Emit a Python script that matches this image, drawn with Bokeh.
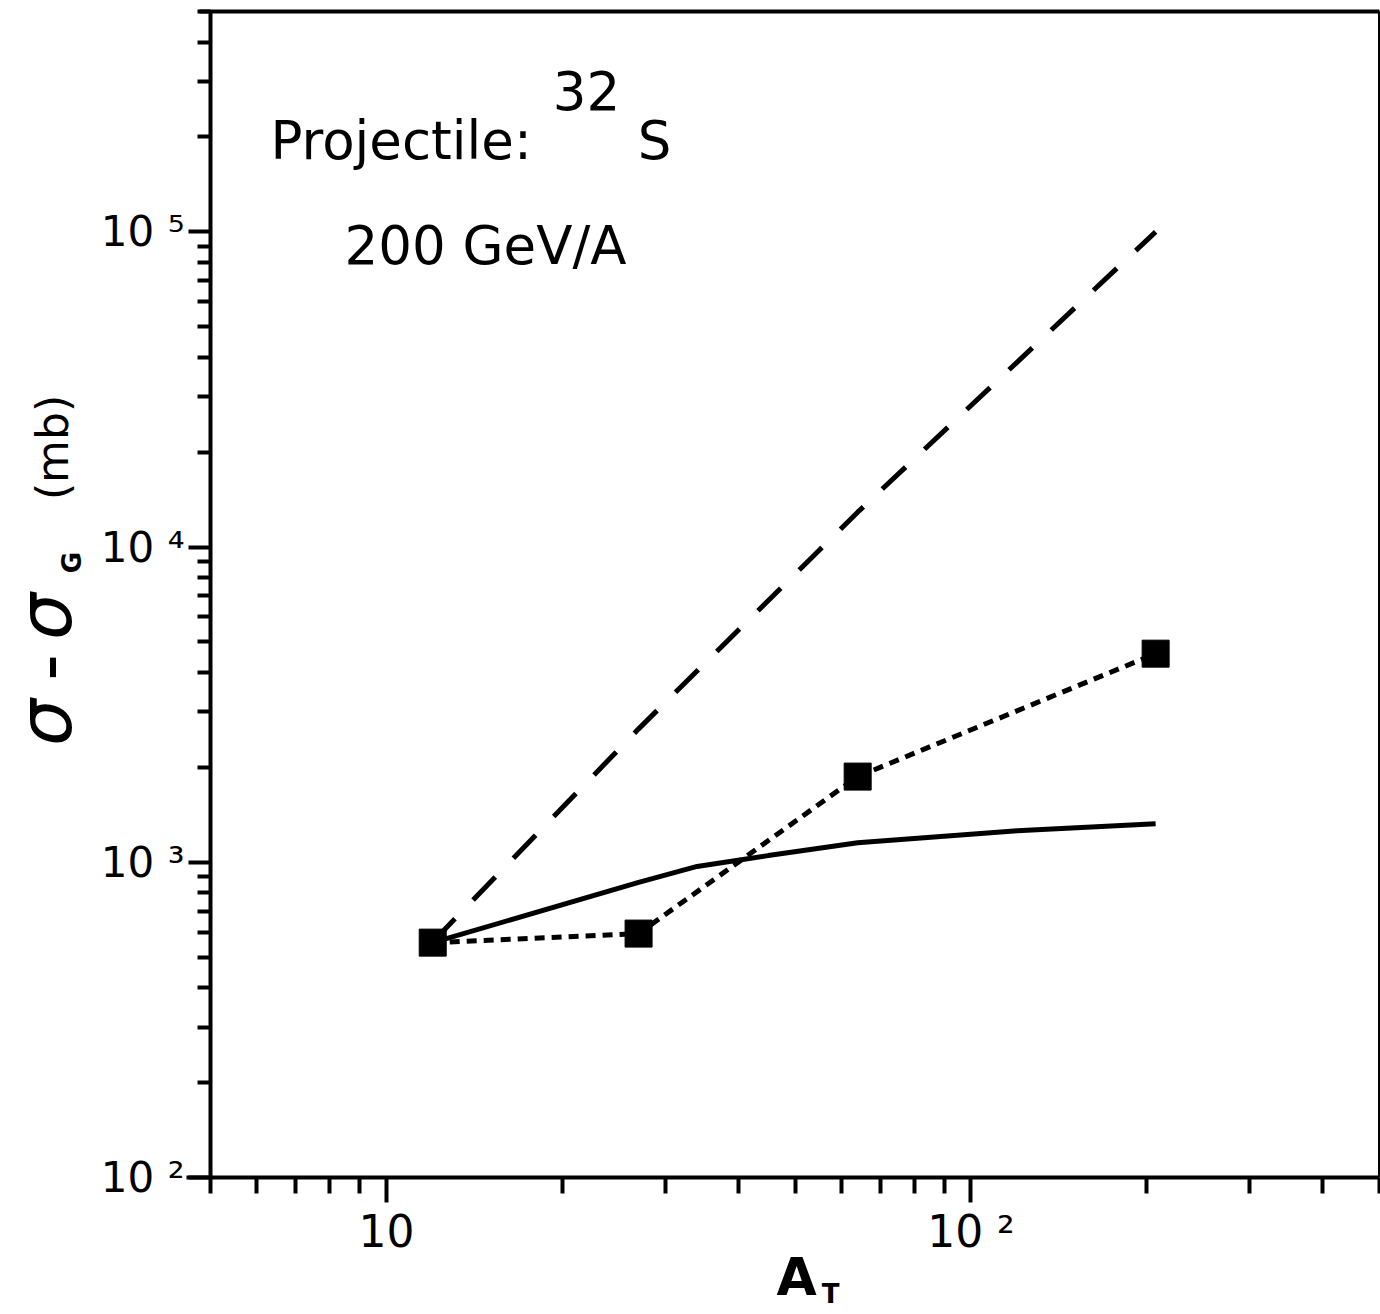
import math
from bokeh.plotting import figure
from bokeh.models import Label, FixedTicker, Range1d, LogAxis
from bokeh.embed import file_html
from bokeh.resources import INLINE

# ---------------- data ----------------
target_A = [12, 27, 64, 207]                 # C, Al, Cu, Pb targets
sigma_exp = [556, 594, 1870, 4590]           # squares, joined by short dashes (mb)

dashed_A = [12, 27, 64, 207]
dashed_sigma = [560, 2650, 12900, 100000]    # long-dashed curve (mb)

solid_A = [12, 27, 34, 45, 64, 120, 207]
solid_sigma = [556, 864, 970, 1050, 1153, 1260, 1324]   # solid curve (mb)

x_major = [10, 100]
x_major_labels = ["10", "10 \u00b2"]
y_major = [100, 1000, 10000, 100000]
y_major_labels = ["10 \u00b2", "10 \u00b3", "10 \u2074", "10 \u2075"]

X_MIN, X_MAX = 5, 500
Y_MIN, Y_MAX = 100, 5e5

x_minor = [m * 10 ** e for e in range(0, 3) for m in range(2, 10)
           if X_MIN <= m * 10 ** e <= X_MAX and m * 10 ** e not in x_major]
y_minor = [m * 10 ** e for e in range(2, 6) for m in range(2, 10)
           if Y_MIN <= m * 10 ** e <= Y_MAX]

# ---------------- layout (pixels of the page) ----------------
W, H = 1380, 1314
PX_L, PX_R, PX_T, PX_B = 210, 1379, 11, 1177      # where the axes box sits

lx0, lx1 = math.log10(X_MIN), math.log10(X_MAX)
ly0, ly1 = math.log10(Y_MIN), math.log10(Y_MAX)
kx = (PX_R - PX_L) / (lx1 - lx0)
ky = (PX_B - PX_T) / (ly1 - ly0)
x_start = 10 ** (lx0 - PX_L / kx)
x_end = 10 ** (lx1 + (W - PX_R) / kx)
y_start = 10 ** (ly0 - (H - PX_B) / ky)
y_end = 10 ** (ly1 + PX_T / ky)

def x_at_px(px):
    return 10 ** (lx0 + (px - PX_L) / kx)

FONT = "DejaVu Sans"

p = figure(width=W, height=H,
           x_axis_type="log", y_axis_type="log",
           x_range=Range1d(x_start, x_end), y_range=Range1d(y_start, y_end),
           output_backend="svg", toolbar_location=None,
           min_border_left=0, min_border_right=0,
           min_border_top=0, min_border_bottom=0)

p.title.text = ""
p.title.visible = False
p.background_fill_color = "white"
p.border_fill_color = "white"
p.outline_line_color = None
p.xgrid.grid_line_color = None
p.ygrid.grid_line_color = None

# ---- x axis (drawn at y = Y_MIN) ----
xa = p.xaxis[0]
xa.fixed_location = Y_MIN
xa.bounds = (x_at_px(186), X_MAX)
xa.ticker = FixedTicker(ticks=x_major, minor_ticks=x_minor)
xa.major_label_overrides = dict(zip(x_major, x_major_labels))
xa.axis_line_width = 4
xa.axis_line_color = "black"
xa.major_tick_line_width = 4
xa.minor_tick_line_width = 4
xa.major_tick_out = 25
xa.major_tick_in = 0
xa.minor_tick_out = 16
xa.minor_tick_in = 0
xa.major_label_text_font = FONT
xa.major_label_text_font_size = "44px"
xa.major_label_text_color = "black"
xa.major_label_standoff = 3

# ---- y axis (drawn at x = X_MIN) ----
ya = p.yaxis[0]
ya.fixed_location = X_MIN
ya.bounds = (Y_MIN, Y_MAX)
ya.ticker = FixedTicker(ticks=y_major, minor_ticks=y_minor)
ya.major_label_overrides = dict(zip(y_major, y_major_labels))
ya.axis_line_width = 4
ya.axis_line_color = "black"
ya.major_tick_line_width = 4
ya.minor_tick_line_width = 4
ya.major_tick_out = 22
ya.major_tick_in = 0
ya.minor_tick_out = 13
ya.minor_tick_in = 0
ya.major_label_text_font = FONT
ya.major_label_text_font_size = "42px"
ya.major_label_text_color = "black"
ya.major_label_standoff = 4

# ---- top and right edges of the box ----
top = LogAxis(fixed_location=Y_MAX, bounds=(x_at_px(199), X_MAX),
              ticker=FixedTicker(ticks=[], minor_ticks=[]),
              axis_line_width=4, axis_line_color="black",
              major_tick_line_color=None, minor_tick_line_color=None,
              major_label_text_font_size="0px")
right = LogAxis(fixed_location=X_MAX, bounds=(Y_MIN, Y_MAX),
                ticker=FixedTicker(ticks=[], minor_ticks=[]),
                axis_line_width=3, axis_line_color="black",
                major_tick_line_color=None, minor_tick_line_color=None,
                major_label_text_font_size="0px")
p.add_layout(top, "above")
p.add_layout(right, "right")

# ---- curves ----
p.line(dashed_A, dashed_sigma, line_color="black", line_width=5, line_dash="32 26")
p.line(solid_A, solid_sigma, line_color="black", line_width=5)
p.line(target_A, sigma_exp, line_color="black", line_width=5, line_dash="10 7")
p.scatter(target_A, sigma_exp, marker="square", size=27,
          fill_color="black", line_color="black")

# ---- texts (anchored at the lower-left corner of the box, offsets in px) ----
def lab(text, dx, dy, size, align="left", baseline="alphabetic", style="normal", angle=0.0):
    p.add_layout(Label(x=X_MIN, y=Y_MIN, x_offset=dx, y_offset=dy, text=text,
                       text_font=FONT, text_font_size=size, text_font_style=style,
                       text_align=align, text_baseline=baseline, text_color="black",
                       angle=angle))

lab("Projectile:", 60, 1037, "53px")
lab("32", 376, 1087, "53px", align="center")
lab("S", 444, 1037, "53px", align="center")
lab("200 GeV/A", 134, 932, "53px")

# x-axis title A_T
lab("A", 586, -99, "52px", align="center", style="bold")
lab("T", 620, -116, "26px", align="center", style="bold")

# y-axis title  sigma - sigma_G  (mb)  (rotated)
rot = math.pi / 2
lab("\u03c3", -166, 455, "74px", align="center", baseline="middle", style="italic", angle=rot)
lab("-", -164, 510, "74px", align="center", baseline="middle", angle=rot)
lab("\u03c3", -166, 561, "74px", align="center", baseline="middle", style="italic", angle=rot)
lab("G", -139, 615, "26px", align="center", baseline="middle", style="bold", angle=rot)
lab("(mb)", -158, 730, "44px", align="center", baseline="middle", angle=rot)

open("out.html", "w").write(file_html(p, INLINE))
